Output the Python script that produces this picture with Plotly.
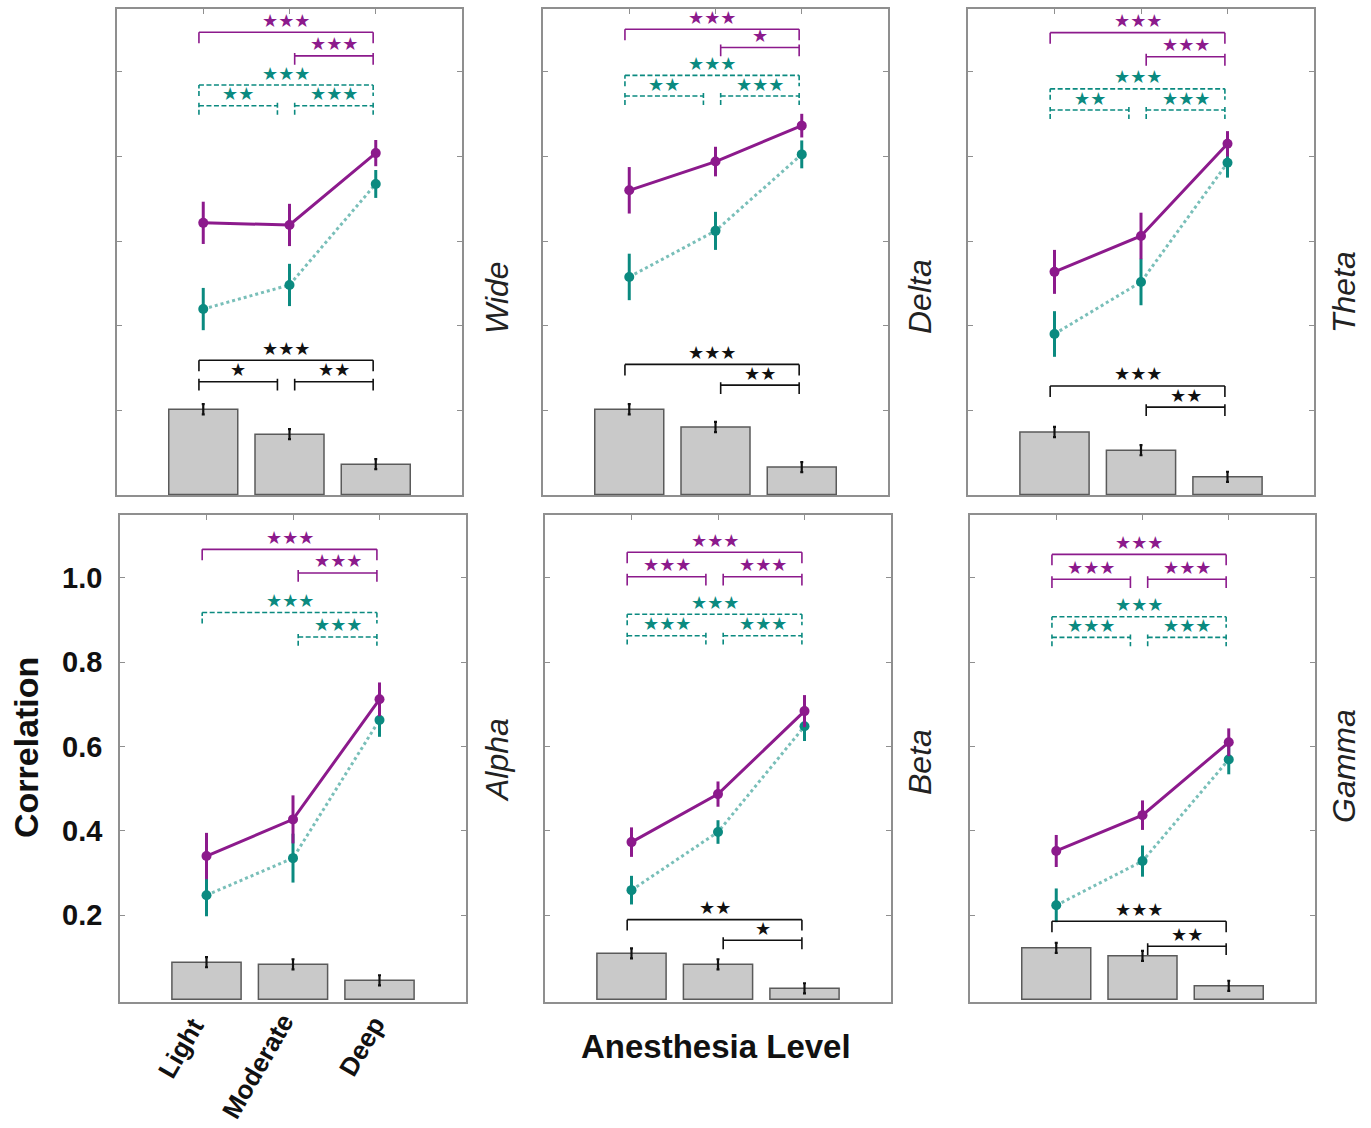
import plotly.graph_objects as go

# ---------------- data ----------------
LEVELS = ["Light", "Moderate", "Deep"]
BANDS = ["Wide", "Delta", "Theta", "Alpha", "Beta", "Gamma"]
YTICKS = [0.2, 0.4, 0.6, 0.8, 1.0]
YTICK_TEXT = ["0.2", "0.4", "0.6", "0.8", "1.0"]

purple_mean = {
    "Wide":  [0.643, 0.638, 0.808],
    "Delta": [0.720, 0.788, 0.873],
    "Theta": [0.527, 0.612, 0.830],
    "Alpha": [0.340, 0.427, 0.712],
    "Beta":  [0.373, 0.487, 0.684],
    "Gamma": [0.352, 0.437, 0.610],
}
purple_err = {
    "Wide":  [0.050, 0.050, 0.031],
    "Delta": [0.055, 0.035, 0.028],
    "Theta": [0.052, 0.055, 0.030],
    "Alpha": [0.055, 0.057, 0.040],
    "Beta":  [0.035, 0.030, 0.038],
    "Gamma": [0.038, 0.035, 0.033],
}
teal_mean = {
    "Wide":  [0.439, 0.496, 0.735],
    "Delta": [0.515, 0.624, 0.805],
    "Theta": [0.380, 0.503, 0.785],
    "Alpha": [0.247, 0.335, 0.663],
    "Beta":  [0.259, 0.397, 0.648],
    "Gamma": [0.223, 0.328, 0.569],
}
teal_err = {
    "Wide":  [0.050, 0.050, 0.033],
    "Delta": [0.055, 0.045, 0.033],
    "Theta": [0.054, 0.055, 0.035],
    "Alpha": [0.050, 0.058, 0.040],
    "Beta":  [0.034, 0.028, 0.035],
    "Gamma": [0.040, 0.037, 0.035],
}
bar_mean = {
    "Wide":  [0.202, 0.143, 0.072],
    "Delta": [0.202, 0.160, 0.065],
    "Theta": [0.148, 0.105, 0.042],
    "Alpha": [0.088, 0.083, 0.045],
    "Beta":  [0.109, 0.083, 0.026],
    "Gamma": [0.122, 0.103, 0.032],
}
bar_err = {
    "Wide":  [0.012, 0.012, 0.012],
    "Delta": [0.012, 0.012, 0.012],
    "Theta": [0.012, 0.012, 0.012],
    "Alpha": [0.012, 0.012, 0.012],
    "Beta":  [0.012, 0.012, 0.012],
    "Gamma": [0.012, 0.012, 0.012],
}

# significance comparisons: (series, (i, j), stars)
significance = {
    "Wide":  [("purple", (1, 3), "***"), ("purple", (2, 3), "***"),
              ("teal", (1, 3), "***"), ("teal", (1, 2), "**"), ("teal", (2, 3), "***"),
              ("black", (1, 3), "***"), ("black", (1, 2), "*"), ("black", (2, 3), "**")],
    "Delta": [("purple", (1, 3), "***"), ("purple", (2, 3), "*"),
              ("teal", (1, 3), "***"), ("teal", (1, 2), "**"), ("teal", (2, 3), "***"),
              ("black", (1, 3), "***"), ("black", (2, 3), "**")],
    "Theta": [("purple", (1, 3), "***"), ("purple", (2, 3), "***"),
              ("teal", (1, 3), "***"), ("teal", (1, 2), "**"), ("teal", (2, 3), "***"),
              ("black", (1, 3), "***"), ("black", (2, 3), "**")],
    "Alpha": [("purple", (1, 3), "***"), ("purple", (2, 3), "***"),
              ("teal", (1, 3), "***"), ("teal", (2, 3), "***")],
    "Beta":  [("purple", (1, 3), "***"), ("purple", (1, 2), "***"), ("purple", (2, 3), "***"),
              ("teal", (1, 3), "***"), ("teal", (1, 2), "***"), ("teal", (2, 3), "***"),
              ("black", (1, 3), "**"), ("black", (2, 3), "*")],
    "Gamma": [("purple", (1, 3), "***"), ("purple", (1, 2), "***"), ("purple", (2, 3), "***"),
              ("teal", (1, 3), "***"), ("teal", (1, 2), "***"), ("teal", (2, 3), "***"),
              ("black", (1, 3), "***"), ("black", (2, 3), "**")],
}

# ---------------- layout / style ----------------
W, H = 1371, 1128
PURPLE = "#8c1a8c"
TEAL = "#0b8a80"
TEAL_LINE = "rgba(11,138,128,0.55)"
FRAME = "#8f8f8f"

# panel pixel boxes (left, right, top, bottom)
PANEL_PX = {
    "Wide":  (117, 462, 9, 495),
    "Delta": (543, 888, 9, 495),
    "Theta": (968, 1314, 9, 495),
    "Alpha": (120, 466, 515, 1002),
    "Beta":  (545, 891, 515, 1002),
    "Gamma": (970, 1315, 515, 1002),
}
YRANGE = {"top": [-0.001, 1.149], "bottom": [-0.0065, 1.1495]}
# bracket line heights: (big, small) for each series
BRACKET_Y = {
    "Wide":  {"purple": (1.094, 1.038), "teal": (0.969, 0.920), "black": (0.318, 0.267)},
    "Delta": {"purple": (1.101, 1.058), "teal": (0.992, 0.943), "black": (0.308, 0.259)},
    "Theta": {"purple": (1.093, 1.036), "teal": (0.960, 0.910), "black": (0.257, 0.207)},
    "Alpha": {"purple": (1.068, 1.012), "teal": (0.918, 0.860), "black": (0.3, 0.25)},
    "Beta":  {"purple": (1.061, 1.003), "teal": (0.914, 0.863), "black": (0.189, 0.140)},
    "Gamma": {"purple": (1.056, 0.997), "teal": (0.908, 0.859), "black": (0.185, 0.126)},
}
LABEL_PX = {
    "Wide": (497, 298), "Delta": (920, 297), "Theta": (1344, 292),
    "Alpha": (497, 760), "Beta": (920, 762), "Gamma": (1344, 766),
}
SER_COLOR = {"purple": PURPLE, "teal": TEAL, "black": "#111111"}

fig = go.Figure()
layout = dict(
    width=W, height=H, margin=dict(l=0, r=0, t=0, b=0),
    paper_bgcolor="white", plot_bgcolor="white", showlegend=False,
)
shapes = []
annotations = []

xs = [1, 2, 3]
for k, band in enumerate(BANDS):
    idx = k + 1
    xa = "x" if idx == 1 else f"x{idx}"
    ya = "y" if idx == 1 else f"y{idx}"
    l, r, t, b = PANEL_PX[band]
    row = "top" if k < 3 else "bottom"

    # bars
    fig.add_trace(go.Bar(
        x=xs, y=bar_mean[band], width=0.8, xaxis=xa, yaxis=ya,
        marker=dict(color="#c9c9c9", line=dict(color="#5a5a5a", width=1.5)),
        error_y=dict(type="data", array=bar_err[band], color="#111111",
                     thickness=2.2, width=1.5),
    ))
    # teal (dotted)
    fig.add_trace(go.Scatter(
        x=xs, y=teal_mean[band], xaxis=xa, yaxis=ya, mode="lines+markers",
        line=dict(color=TEAL_LINE, width=3, dash="dot"),
        marker=dict(color=TEAL, size=10),
        error_y=dict(type="data", array=teal_err[band], color=TEAL,
                     thickness=3, width=0),
    ))
    # purple (solid)
    fig.add_trace(go.Scatter(
        x=xs, y=purple_mean[band], xaxis=xa, yaxis=ya, mode="lines+markers",
        line=dict(color=PURPLE, width=3),
        marker=dict(color=PURPLE, size=10),
        error_y=dict(type="data", array=purple_err[band], color=PURPLE,
                     thickness=3, width=0),
    ))

    xkey = "xaxis" if idx == 1 else f"xaxis{idx}"
    ykey = "yaxis" if idx == 1 else f"yaxis{idx}"
    layout[xkey] = dict(
        domain=[l / W, r / W], range=[0, 4], anchor=ya, side="top",
        tickvals=xs, showticklabels=False, ticks="inside", ticklen=5,
        tickcolor=FRAME, tickwidth=1.2, showline=True, linecolor=FRAME,
        linewidth=1.5, mirror=True, showgrid=False, zeroline=False,
        fixedrange=True,
    )
    layout[ykey] = dict(
        domain=[1 - b / H, 1 - t / H], range=YRANGE[row], anchor=xa,
        tickvals=YTICKS, ticktext=YTICK_TEXT, showticklabels=(band == "Alpha"),
        ticks="inside", ticklen=5, tickcolor=FRAME, tickwidth=1.2,
        showline=True, linecolor=FRAME, linewidth=1.5, mirror="allticks",
        showgrid=False, zeroline=False, ticklabelstandoff=10,
        tickfont=dict(family="Liberation Sans", size=29, color="#111111",
                      weight="bold"),
    )

    # significance brackets
    for ser, (i, j), stars in significance[band]:
        big = (i, j) == (1, 3)
        yline = BRACKET_Y[band][ser][0 if big else 1]
        x0 = i - 0.05 if i == 1 else i + 0.06
        x1 = j - 0.03 if j == 3 else j - 0.14
        drop = 0.026 if big else 0.021
        up = 0.0 if big else 0.007
        col = SER_COLOR[ser]
        dash = "5px,2.5px" if ser == "teal" else "solid"
        path = (f"M {x0},{yline - drop} L {x0},{yline + up} M {x0},{yline} "
                f"L {x1},{yline} M {x1},{yline + up} L {x1},{yline - drop}")
        shapes.append(dict(type="path", path=path, xref=xa, yref=ya,
                           line=dict(color=col, width=1.6, dash=dash)))
        annotations.append(dict(
            x=(x0 + x1) / 2, y=yline, xref=xa, yref=ya, text="★" * len(stars),
            showarrow=False, yanchor="middle", xanchor="center", yshift=12,
            font=dict(family="DejaVu Sans", size=18, color=col),
        ))

    # panel label
    lx, ly = LABEL_PX[band]
    annotations.append(dict(
        x=lx / W, y=1 - ly / H, xref="paper", yref="paper", text=band,
        showarrow=False, textangle=-90, xanchor="center", yanchor="middle",
        font=dict(family="Liberation Sans", size=32, color="#222222",
                  style="italic"),
    ))

# x category labels (rotated) under the Alpha panel
LEVEL_PX = [(181, 1048), (258, 1066), (362, 1046)]
for name, (px, py) in zip(LEVELS, LEVEL_PX):
    annotations.append(dict(
        x=px / W, y=1 - py / H, xref="paper", yref="paper", text=name,
        showarrow=False, textangle=-60, xanchor="center", yanchor="middle",
        font=dict(family="Liberation Sans", size=26, color="#111111",
                  weight="bold"),
    ))

annotations.append(dict(
    x=716 / W, y=1 - 1046 / H, xref="paper", yref="paper",
    text="Anesthesia Level", showarrow=False, xanchor="center", yanchor="middle",
    font=dict(family="Liberation Sans", size=33, color="#111111", weight="bold"),
))
annotations.append(dict(
    x=26 / W, y=1 - 748 / H, xref="paper", yref="paper",
    text="Correlation", showarrow=False, textangle=-90, xanchor="center",
    yanchor="middle",
    font=dict(family="Liberation Sans", size=34, color="#111111", weight="bold"),
))

layout["shapes"] = shapes
layout["annotations"] = annotations
fig.update_layout(**layout)
fig.write_html(
    "out.html",
    config={"displayModeBar": False},
    post_script="document.body.style.margin='0';document.body.style.padding='0';",
)
